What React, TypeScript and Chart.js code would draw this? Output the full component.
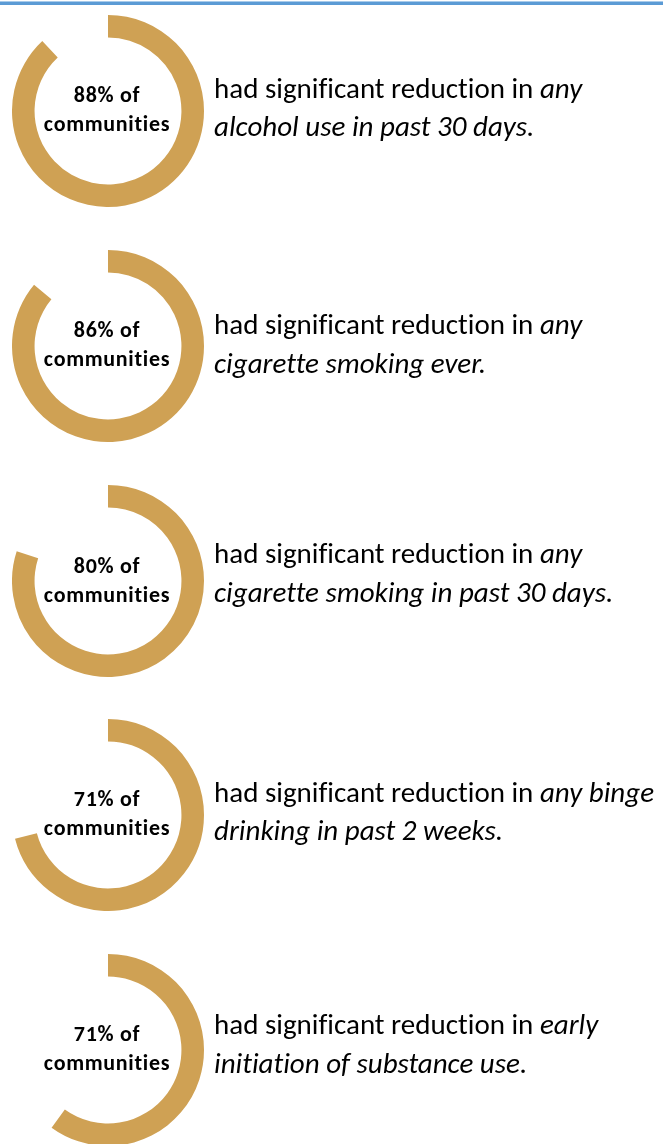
import React, { useEffect, useRef } from 'react';
import { Chart, registerables } from 'chart.js';

Chart.register(...registerables);

// ---- data ----
const percentLabels = ['88%', '86%', '80%', '71%', '71%'];
const arcValues = [88, 86, 80, 71, 60];
const leadText = 'had significant reduction in ';
const line1Italic = ['any', 'any', 'any', 'any binge', 'early'];
const line2Italic = [
  'alcohol use in past 30 days.',
  'cigarette smoking ever.',
  'cigarette smoking in past 30 days.',
  'drinking in past 2 weeks.',
  'initiation of substance use.',
];

// ---- layout / style ----
const GOLD = '#CFA154';
const ringCenterY = [110.5, 345.5, 581, 814.5, 1049.5];
const line1Offset = [-13, -11.5, -18, -13, -15.5];
const FONT = "Carlito, Calibri, Lato, 'Noto Sans', sans-serif";
const RING_X = 108;
const RING_R = 96;

function Ring({ value, cy }: { value: number; cy: number }) {
  const ref = useRef<HTMLCanvasElement>(null);
  useEffect(() => {
    const chart = new Chart(ref.current as HTMLCanvasElement, {
      type: 'doughnut',
      data: {
        labels: ['reduction', 'rest'],
        datasets: [
          {
            data: [value, 100 - value],
            backgroundColor: [GOLD, 'rgba(0,0,0,0)'],
            borderWidth: 0,
            hoverOffset: 0,
          },
        ],
      },
      options: {
        responsive: false,
        animation: false,
        cutout: '76.5%',
        rotation: 0,
        circumference: 360,
        events: [],
        layout: { padding: 0 },
        plugins: { legend: { display: false }, tooltip: { enabled: false } },
      },
    });
    return () => chart.destroy();
  }, [value]);
  return (
    <canvas
      ref={ref}
      width={RING_R * 2}
      height={RING_R * 2}
      style={{
        position: 'absolute',
        left: RING_X - RING_R,
        top: Math.round(cy - RING_R),
        width: RING_R * 2,
        height: RING_R * 2,
      }}
    />
  );
}

export default function App() {
  return (
    <div
      style={{
        position: 'absolute',
        left: 0,
        top: 0,
        width: 663,
        height: 1144,
        overflow: 'hidden',
        background: '#ffffff',
      }}
    >
      <div style={{ position: 'absolute', left: 0, top: 1, width: 663, height: 1, background: '#A9CBEA' }} />
      <div style={{ position: 'absolute', left: 0, top: 2, width: 663, height: 3, background: '#5B9BD5' }} />
      {arcValues.map((v, i) => (
        <Ring key={i} value={v} cy={ringCenterY[i]} />
      ))}
      <svg
        width={663}
        height={1144}
        style={{ position: 'absolute', left: 0, top: 0, whiteSpace: 'pre', fontVariantLigatures: 'none' }}
      >
        {percentLabels.map((p, i) => {
          const cy = ringCenterY[i];
          const b1 = cy + line1Offset[i];
          return (
            <g key={i} fill="#000000" fontFamily={FONT}>
              <text x={107} y={cy - 8.5} textAnchor="middle" fontWeight="bold" fontSize={22} letterSpacing={0.7}>
                {p + ' of'}
              </text>
              <text x={107} y={cy + 20.5} textAnchor="middle" fontWeight="bold" fontSize={22} letterSpacing={0.7}>
                communities
              </text>
              <text x={214} y={b1} fontSize={29}>
                {leadText}
                <tspan fontStyle="italic">{line1Italic[i]}</tspan>
              </text>
              <text x={214} y={b1 + 38.5} fontSize={29} fontStyle="italic">
                {line2Italic[i]}
              </text>
            </g>
          );
        })}
      </svg>
    </div>
  );
}
